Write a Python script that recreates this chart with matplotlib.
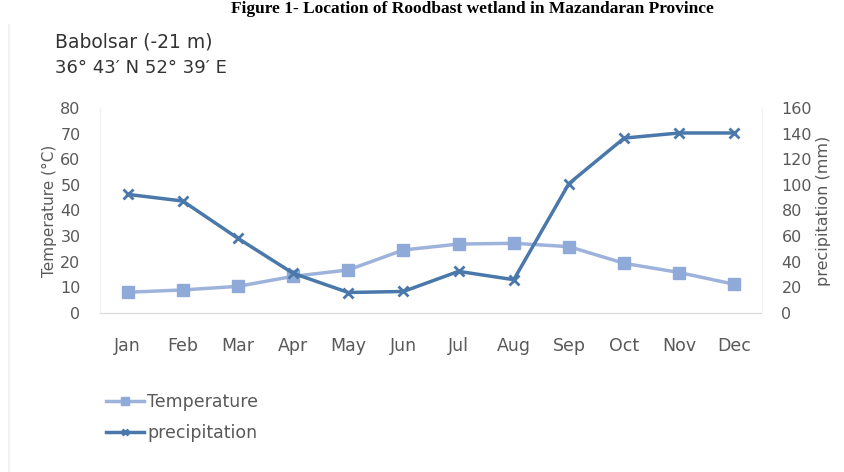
import matplotlib.pyplot as plt
import numpy as np

# monthly climate data for Babolsar
months = ["Jan", "Feb", "Mar", "Apr", "May", "Jun", "Jul", "Aug", "Sep", "Oct", "Nov", "Dec"]
temperature = [8.1, 9.0, 10.4, 14.3, 16.8, 24.6, 26.9, 27.2, 25.9, 19.4, 15.8, 11.2]
precipitation = [92.6, 87.4, 58.3, 31.0, 16.0, 16.8, 32.5, 26.0, 101.0, 136.5, 140.5, 140.5]

temp_color = "#9DB3DB"
prec_color = "#4A78AA"
text_color = "#595959"

fig = plt.figure(figsize=(8.45, 4.72), dpi=100)
ax = fig.add_axes([100 / 845, 1 - 313 / 472, 662 / 845, 205 / 472])
ax2 = ax.twinx()

x = np.arange(len(months))
ax.plot(x, temperature, color=temp_color, lw=2.5, marker="s", ms=8,
        mfc="#8FA9D8", mec="#8FA9D8", label="Temperature", zorder=3)
ax2.plot(x, precipitation, color=prec_color, lw=2.5, marker="x", ms=7,
         mew=2, label="precipitation", zorder=3)

ax.set_xlim(-0.5, len(months) - 0.5)
ax.set_ylim(0, 80)
ax2.set_ylim(0, 160)
ax.set_yticks(np.arange(0, 81, 10))
ax2.set_yticks(np.arange(0, 161, 20))
ax.set_xticks(x)
ax.set_xticklabels(months)

for a in (ax, ax2):
    for s in a.spines.values():
        s.set_visible(False)
    a.tick_params(length=0, colors=text_color, labelsize=11.5)
ax.spines["bottom"].set_visible(True)
ax.spines["bottom"].set_color("#D9D9D9")
ax.spines["left"].set_visible(True)
ax.spines["left"].set_color("#F0F0F0")
ax2.spines["right"].set_visible(True)
ax2.spines["right"].set_color("#F0F0F0")
ax.tick_params(axis="x", pad=17, labelsize=12.5)
ax.tick_params(axis="y", pad=14)
ax2.tick_params(axis="y", pad=14)

ax.set_ylabel("Temperature (°C)", color=text_color, fontsize=11, labelpad=2)
ax2.set_ylabel("precipitation (mm)", color=text_color, fontsize=11.5, labelpad=3)

# legend below the chart
h1, l1 = ax.get_legend_handles_labels()
h2, l2 = ax2.get_legend_handles_labels()
fig.legend(h1 + h2, l1 + l2, loc="upper left", bbox_to_anchor=(90 / 845, 1 - 377 / 472),
           frameon=False, fontsize=12.5, labelcolor=text_color, handlelength=2.2,
           handletextpad=0.2, labelspacing=0.75, markerscale=0.7)

fig.text(55 / 845, 1 - 42 / 472, "Babolsar (-21 m)", fontsize=13.5, color="#333333",
         va="center")
fig.text(55 / 845, 1 - 68 / 472, "36° 43′ N 52° 39′ E", fontsize=13, color="#333333",
         va="center")

# caption at the top edge
fig.text(472 / 845, 1 - 1 / 472, "Figure 1- Location of Roodbast wetland in Mazandaran Province",
         fontsize=12.5, fontweight="bold", family=["Liberation Serif", "DejaVu Serif"],
         ha="center", va="top")

fig.add_artist(plt.Line2D([9 / 845, 9 / 845], [0, 1 - 25 / 472], color="#F2F2F2", lw=1.5))

fig.savefig("out.png", dpi=100)
